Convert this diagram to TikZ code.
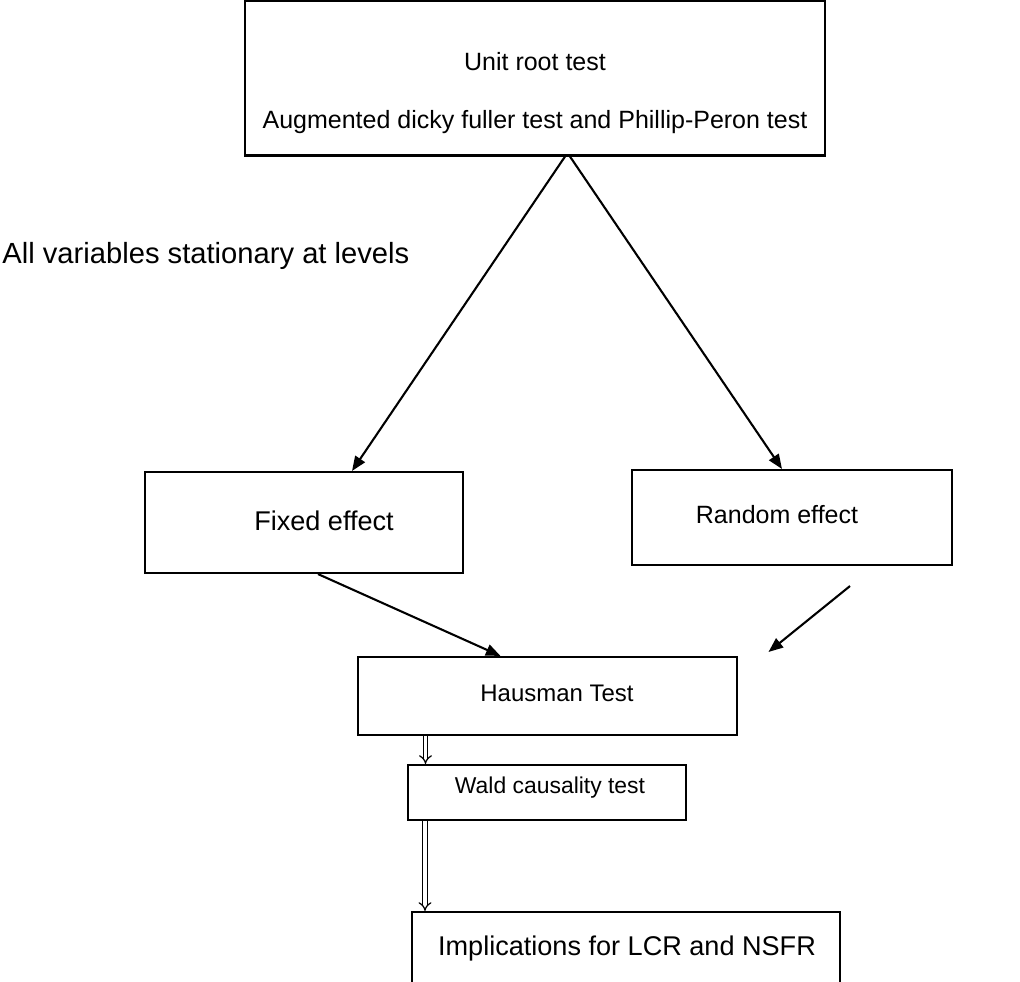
\documentclass[tikz,border=0pt]{standalone}
\usepackage{fontspec}
\setmainfont{Liberation Sans}
\usetikzlibrary{arrows.meta}
\begin{document}
\begin{tikzpicture}[x=0.48pt, y=-0.48pt,
  font=\fontsize{12}{14}\selectfont,
  box/.style={draw=black, line width=1pt, rectangle, inner sep=0pt},
  txt/.style={inner sep=0pt},
  flow/.style={draw=black, line width=1pt, -{Triangle[length=7pt,width=5.5pt]}},
  hollow/.style={draw=black, line width=0.6pt, double, double distance=1.5pt,
    -{Implies[length=2.5pt]}}]
\useasboundingbox (0,0) rectangle (1020,981);
\begin{scope}
\clip (0,0) rectangle (1020,981);
% boxes
\node[box, minimum width=580*0.48pt, minimum height=155*0.48pt] (top) at (535,78) {};
\node[box, minimum width=318*0.48pt, minimum height=101*0.48pt] (fixed) at (304,522.5) {};
\node[box, minimum width=320*0.48pt, minimum height=95*0.48pt] (random) at (792,517.5) {};
\node[box, minimum width=379*0.48pt, minimum height=78*0.48pt] (hausman) at (547.5,696) {};
\node[box, minimum width=278*0.48pt, minimum height=55*0.48pt] (wald) at (547,792.5) {};
\node[box, minimum width=428*0.48pt, minimum height=100*0.48pt] (impl) at (626,962) {};
\end{scope}
% texts
\node[txt] (t1) at (535,62) {Unit root test};
\node[txt] (t2) at (535,122) {Augmented dicky fuller test and Phillip-Peron test};
\node[txt, anchor=west, font=\fontsize{14}{16}\selectfont] (lbl) at (2,256) {All variables stationary at levels};
\node[txt, font=\fontsize{13}{15}\selectfont] (t3) at (324,521) {Fixed effect};
\node[txt] (t4) at (777,515) {Random effect};
\node[txt, font=\fontsize{11.5}{14}\selectfont] (t5) at (557,693) {Hausman Test};
\node[txt, font=\fontsize{11}{13}\selectfont] (t6) at (550,788) {Wald causality test};
\node[txt, font=\fontsize{13}{15}\selectfont] (t7) at (627,948) {Implications for LCR and NSFR};
% connectors
\draw[flow] ([xshift=30*0.48pt]top.south) -- ([xshift=48*0.48pt]fixed.north);
\draw[flow] ([xshift=35*0.48pt]top.south) -- ([xshift=-10*0.48pt]random.north);
\draw[flow] ([xshift=14*0.48pt]fixed.south) -- ([xshift=-47*0.48pt]hausman.north);
\draw[flow] ([xshift=58*0.48pt,yshift=-20*0.48pt]random.south) -- ([xshift=221*0.48pt,yshift=4*0.48pt]hausman.north);
\draw[hollow] ([xshift=-122*0.48pt]hausman.south) -- ([xshift=-122*0.48pt]hausman.south |- wald.north);
\draw[hollow] ([xshift=-122*0.48pt]wald.south) -- ([xshift=-122*0.48pt]wald.south |- impl.north);
\end{tikzpicture}
\end{document}
